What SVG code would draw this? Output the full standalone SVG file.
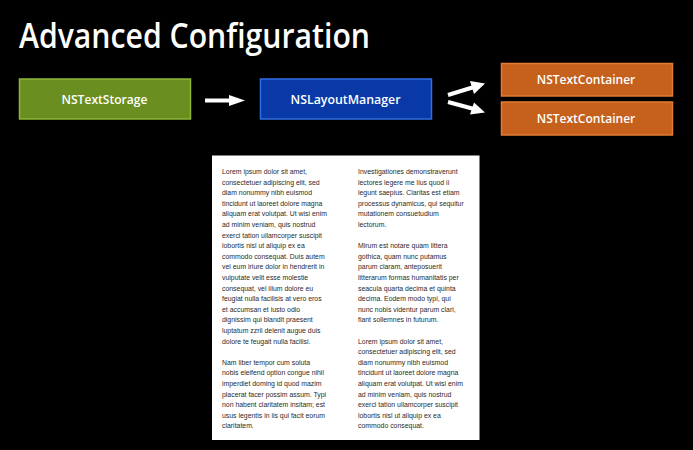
<svg xmlns="http://www.w3.org/2000/svg" width="693" height="450" viewBox="0 0 693 450">
<defs>
<style>
.title{font-family:"Open Sans","Liberation Sans",sans-serif;font-size:34px;font-weight:600;fill:#fff}
.lbl{font-family:"Open Sans","Liberation Sans",sans-serif;font-size:12.5px;font-weight:600;fill:#fff;text-anchor:middle}
.body{font-family:"Liberation Sans",Arial,sans-serif;font-size:6.9px;fill:#2a2a2a}
.arr{stroke:#fff;stroke-width:4;fill:none}
.head{fill:#fff}
</style>
</defs>
<rect width="693" height="450" fill="#000"/>
<text class="title" x="19" y="48" textLength="351" lengthAdjust="spacingAndGlyphs">Advanced Configuration</text>
<g id="connectors">
<line class="arr" x1="205" y1="100.5" x2="233" y2="100.5"/>
<polygon class="head" points="229,95 245,100.5 229,106"/>
<line class="arr" x1="448" y1="95" x2="474" y2="87"/>
<polygon class="head" points="470,81 485,83.5 474,94"/>
<line class="arr" x1="448" y1="102" x2="474" y2="109"/>
<polygon class="head" points="474,102.5 485,112.5 470,114.5"/>
</g>
<g id="textstorage">
<rect x="19.5" y="79" width="171" height="40" fill="#6a8e1f" stroke="#8db63a" stroke-width="1.5"/>
<text class="lbl" x="104.5" y="104" textLength="86" lengthAdjust="spacingAndGlyphs">NSTextStorage</text>
</g>
<g id="layoutmanager">
<rect x="260.5" y="79" width="171" height="40" fill="#0839a6" stroke="#2f6ee6" stroke-width="1.5"/>
<text class="lbl" x="345.5" y="104" textLength="110" lengthAdjust="spacingAndGlyphs">NSLayoutManager</text>
</g>
<g id="container1">
<rect x="501.5" y="63.5" width="171" height="32.5" fill="#c5601d" stroke="#e27d33" stroke-width="1.5"/>
<text class="lbl" x="586" y="84" textLength="98.5" lengthAdjust="spacingAndGlyphs">NSTextContainer</text>
</g>
<g id="container2">
<rect x="501.5" y="102" width="171" height="33" fill="#c5601d" stroke="#e27d33" stroke-width="1.5"/>
<text class="lbl" x="586" y="123" textLength="98.5" lengthAdjust="spacingAndGlyphs">NSTextContainer</text>
</g>
<g id="page">
<rect x="212" y="155.5" width="267.5" height="284.5" fill="#fff"/>
<text class="body" x="222" y="174">
<tspan x="222" dy="0">Lorem ipsum dolor sit amet,</tspan>
<tspan x="222" dy="10.6">consectetuer adipiscing elit, sed</tspan>
<tspan x="222" dy="10.6">diam nonummy nibh euismod</tspan>
<tspan x="222" dy="10.6">tincidunt ut laoreet dolore magna</tspan>
<tspan x="222" dy="10.6">aliquam erat volutpat. Ut wisi enim</tspan>
<tspan x="222" dy="10.6">ad minim veniam, quis nostrud</tspan>
<tspan x="222" dy="10.6">exerci tation ullamcorper suscipit</tspan>
<tspan x="222" dy="10.6">lobortis nisl ut aliquip ex ea</tspan>
<tspan x="222" dy="10.6">commodo consequat. Duis autem</tspan>
<tspan x="222" dy="10.6">vel eum iriure dolor in hendrerit in</tspan>
<tspan x="222" dy="10.6">vulputate velit esse molestie</tspan>
<tspan x="222" dy="10.6">consequat, vel illum dolore eu</tspan>
<tspan x="222" dy="10.6">feugiat nulla facilisis at vero eros</tspan>
<tspan x="222" dy="10.6">et accumsan et iusto odio</tspan>
<tspan x="222" dy="10.6">dignissim qui blandit praesent</tspan>
<tspan x="222" dy="10.6">luptatum zzril delenit augue duis</tspan>
<tspan x="222" dy="10.6">dolore te feugait nulla facilisi.</tspan>
<tspan x="222" dy="21.2">Nam liber tempor cum soluta</tspan>
<tspan x="222" dy="10.6">nobis eleifend option congue nihil</tspan>
<tspan x="222" dy="10.6">imperdiet doming id quod mazim</tspan>
<tspan x="222" dy="10.6">placerat facer possim assum. Typi</tspan>
<tspan x="222" dy="10.6">non habent claritatem insitam; est</tspan>
<tspan x="222" dy="10.6">usus legentis in iis qui facit eorum</tspan>
<tspan x="222" dy="10.6">claritatem.</tspan>
</text>
<text class="body" x="358" y="174">
<tspan x="358" dy="0">Investigationes demonstraverunt</tspan>
<tspan x="358" dy="10.6">lectores legere me lius quod ii</tspan>
<tspan x="358" dy="10.6">legunt saepius. Claritas est etiam</tspan>
<tspan x="358" dy="10.6">processus dynamicus, qui sequitur</tspan>
<tspan x="358" dy="10.6">mutationem consuetudium</tspan>
<tspan x="358" dy="10.6">lectorum.</tspan>
<tspan x="358" dy="21.2">Mirum est notare quam littera</tspan>
<tspan x="358" dy="10.6">gothica, quam nunc putamus</tspan>
<tspan x="358" dy="10.6">parum claram, anteposuerit</tspan>
<tspan x="358" dy="10.6">litterarum formas humanitatis per</tspan>
<tspan x="358" dy="10.6">seacula quarta decima et quinta</tspan>
<tspan x="358" dy="10.6">decima. Eodem modo typi, qui</tspan>
<tspan x="358" dy="10.6">nunc nobis videntur parum clari,</tspan>
<tspan x="358" dy="10.6">fiant sollemnes in futurum.</tspan>
<tspan x="358" dy="21.2">Lorem ipsum dolor sit amet,</tspan>
<tspan x="358" dy="10.6">consectetuer adipiscing elit, sed</tspan>
<tspan x="358" dy="10.6">diam nonummy nibh euismod</tspan>
<tspan x="358" dy="10.6">tincidunt ut laoreet dolore magna</tspan>
<tspan x="358" dy="10.6">aliquam erat volutpat. Ut wisi enim</tspan>
<tspan x="358" dy="10.6">ad minim veniam, quis nostrud</tspan>
<tspan x="358" dy="10.6">exerci tation ullamcorper suscipit</tspan>
<tspan x="358" dy="10.6">lobortis nisl ut aliquip ex ea</tspan>
<tspan x="358" dy="10.6">commodo consequat.</tspan>
</text>
</g>
</svg>
